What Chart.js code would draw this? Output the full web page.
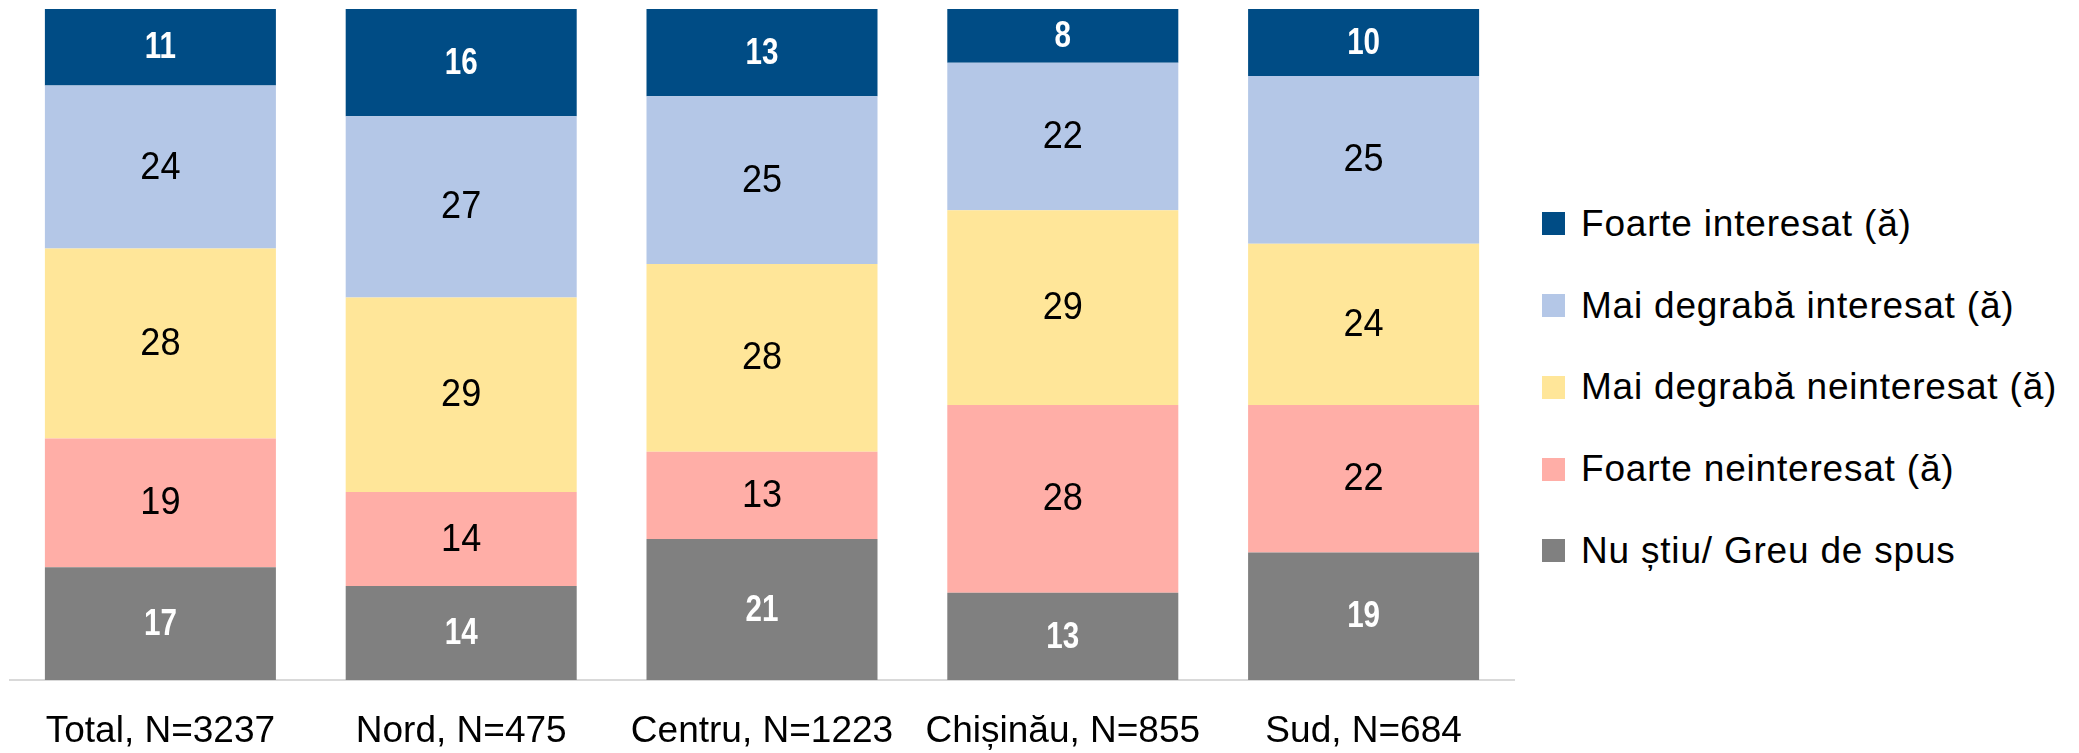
<!DOCTYPE html>
<html>
<head>
<meta charset="utf-8">
<script src="https://cdn.jsdelivr.net/npm/chart.js@4.4.1/dist/chart.umd.min.js"></script>
<style>
    html, body { margin: 0; padding: 0; background: #fff; overflow: hidden; }
    #wrap { position: absolute; left: 0; top: 0; width: 1520px; height: 786px; }
    #legend {
        position: absolute; left: 1542px; top: 183px;
        font-family: 'Liberation Sans', Arial, sans-serif; font-size: 37px;
        letter-spacing: 0.8px; color: #000;
    }
    .item { height: 81.75px; display: flex; align-items: center; white-space: nowrap; }
    .box { width: 23px; height: 23px; margin-right: 16px; flex: none; }
</style>
</head>
<body>
<div id="wrap"><canvas id="chart"></canvas></div>
<div id="legend"></div>
<script>
// --- Data (percentages, bottom segment first) ---
const categories = ['Total, N=3237', 'Nord, N=475', 'Centru, N=1223', 'Chișinău, N=855', 'Sud, N=684'];

const nuStiu = [16.8, 14, 21, 13, 19];
const foarteNeinteresat = [19.2, 14, 13, 28, 22];
const maiDegrabaNeinteresat = [28.3, 29, 28, 29, 24];
const maiDegrabaInteresat = [24.3, 27, 25, 22, 25];
const foarteInteresat = [11.4, 16, 13, 8, 10];

const COLORS = {
    darkBlue: '#004c85',
    lightBlue: '#b4c7e7',
    yellow: '#ffe699',
    pink: '#ffaea7',
    grey: '#808080',
};

// bold labels are condensed horizontally (Arial Narrow look)
const BOLD_WHITE = { font: "bold 37px 'Liberation Sans', Arial, sans-serif", color: '#fff', squeeze: 0.8 };
const PLAIN_BLACK = { font: "38px 'Liberation Sans', Arial, sans-serif", color: '#000', squeeze: 0.95 };

const series = [
    { label: 'Nu știu/ Greu de spus', data: nuStiu, color: COLORS.grey, text: BOLD_WHITE },
    { label: 'Foarte neinteresat (ă)', data: foarteNeinteresat, color: COLORS.pink, text: PLAIN_BLACK },
    { label: 'Mai degrabă neinteresat (ă)', data: maiDegrabaNeinteresat, color: COLORS.yellow, text: PLAIN_BLACK },
    { label: 'Mai degrabă interesat (ă)', data: maiDegrabaInteresat, color: COLORS.lightBlue, text: PLAIN_BLACK },
    { label: 'Foarte interesat (ă)', data: foarteInteresat, color: COLORS.darkBlue, text: BOLD_WHITE },
];

// --- Value labels in the middle of each segment ---
const valueLabels = {
    id: 'valueLabels',
    afterDatasetsDraw(chart) {
        const ctx = chart.ctx;
        chart.data.datasets.forEach((ds, i) => {
            const meta = chart.getDatasetMeta(i);
            const t = series[i].text;
            meta.data.forEach((bar, j) => {
                ctx.save();
                ctx.translate(bar.x, (bar.y + bar.base) / 2 + 1);
                ctx.scale(t.squeeze, 1);
                ctx.textAlign = 'center';
                ctx.textBaseline = 'middle';
                ctx.font = t.font;
                ctx.fillStyle = t.color;
                ctx.fillText(Math.round(ds.data[j]), 0, 0);
                ctx.restore();
            });
        });
    }
};

new Chart(document.getElementById('chart'), {
    type: 'bar',
    data: {
        labels: categories,
        datasets: series.map(s => ({
            label: s.label,
            data: s.data,
            backgroundColor: s.color,
            borderWidth: 0,
            categoryPercentage: 1,
            barPercentage: 0.768,
        }))
    },
    options: {
        responsive: true,
        maintainAspectRatio: false,
        animation: false,
        layout: { padding: { left: 10, right: 6, top: 9, bottom: 3 } },
        plugins: { legend: { display: false }, tooltip: { enabled: false } },
        scales: {
            x: {
                stacked: true,
                z: 1,
                grid: { display: false, drawTicks: false },
                border: { color: '#d9d9d9', width: 2 },
                ticks: {
                    color: '#000',
                    padding: 33,
                    maxRotation: 0,
                    autoSkip: false,
                    font: { family: "'Liberation Sans', Arial, sans-serif", size: 37, lineHeight: 1 }
                }
            },
            y: { stacked: true, display: false, min: 0, max: 100 }
        }
    },
    plugins: [valueLabels]
});

// --- Legend (top category first) ---
document.getElementById('legend').innerHTML = series.slice().reverse().map(s => `
    <div class="item"><span class="box" style="background:${s.color}"></span>${s.label}</div>
`).join('');
</script>
</body>
</html>
